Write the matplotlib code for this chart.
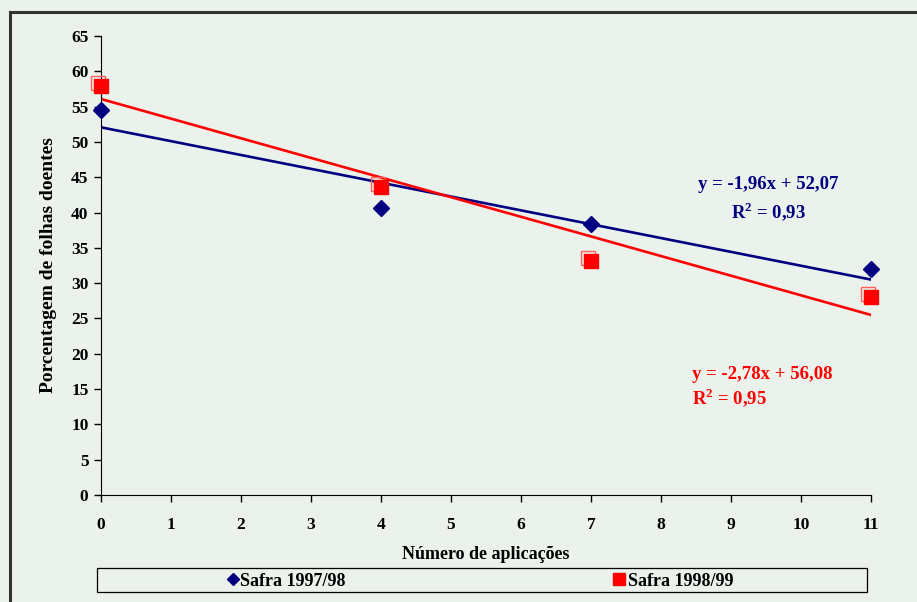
import matplotlib.pyplot as plt
import matplotlib.transforms as mtransforms
from matplotlib.patches import Rectangle
from matplotlib.lines import Line2D
import numpy as np

# dados
aplicacoes = [0, 4, 7, 11]
safra_9798 = [54.5, 40.6, 38.4, 32.0]
safra_9899 = [57.9, 43.6, 33.1, 28.0]
# coeficientes das linhas de tendencia (a, b) em y = a*x + b
coef_9798 = [-1.96, 52.07]
coef_9899 = [-2.78, 56.08]
r2_9798 = 0.93
r2_9899 = 0.95
xticks = list(range(0, 12))
yticks = list(range(0, 70, 5))

azul = '#000080'
vermelho = '#FF0000'
fundo = '#EBF1EB'


def virgula(v):
    return ('%.2f' % v).replace('.', ',')


plt.rcParams['font.family'] = ['Liberation Serif', 'DejaVu Serif']
plt.rcParams['font.weight'] = 'bold'
plt.rcParams['mathtext.fontset'] = 'custom'
plt.rcParams['mathtext.rm'] = 'Liberation Serif:bold'
plt.rcParams['mathtext.bf'] = 'Liberation Serif:bold'

fig = plt.figure(figsize=(9.17, 6.02), dpi=100, facecolor=fundo)
ax = fig.add_axes([0.1101, 0.1777, 0.8397, 0.7625])
ax.set_facecolor(fundo)

# linhas de tendencia
xl = np.array([aplicacoes[0], aplicacoes[-1]])
ax.plot(xl, coef_9798[0] * xl + coef_9798[1], color=azul, lw=1.9, zorder=2)
ax.plot(xl, coef_9899[0] * xl + coef_9899[1], color=vermelho, lw=1.9, zorder=2)

# pontos
ax.plot(aplicacoes, safra_9798, 'D', color=azul, ms=8, clip_on=False, zorder=4)
sombra = mtransforms.offset_copy(ax.transData, fig=fig, x=-3, y=3, units='dots')
ax.plot(aplicacoes, safra_9899, 's', mfc='none', mec='#FF6060', mew=1.0, ms=10,
        transform=sombra, clip_on=False, zorder=3)
ax.plot(aplicacoes, safra_9899, 's', color=vermelho, ms=10, clip_on=False, zorder=4)

ax.set_xlim(0, 11)
ax.set_ylim(0, 65)
ax.set_xticks(xticks)
ax.set_yticks(yticks)
ax.spines['top'].set_visible(False)
ax.spines['right'].set_visible(False)
ax.tick_params(axis='both', direction='out', length=5, width=1, labelsize=12.5)
ax.tick_params(axis='x', pad=11)
ax.tick_params(axis='y', pad=4)
for lab in ax.get_xticklabels() + ax.get_yticklabels():
    lab.set_fontweight('bold')

ax.set_xlabel('Número de aplicações', fontsize=13, fontweight='bold', labelpad=9)
ax.set_ylabel('Porcentagem de folhas doentes', fontsize=14, fontweight='bold', labelpad=10)

# equacoes
ax.text(9.53, 44.0, 'y = %sx + %s' % (virgula(coef_9798[0]), virgula(coef_9798[1])),
        color=azul, fontsize=13.5, fontweight='bold', ha='center', va='center')
ax.text(9.53, 40.0, 'R$^2$ = %s' % virgula(r2_9798), color=azul,
        fontsize=13.5, fontweight='bold', ha='center', va='center')
ax.text(8.45, 17.0, 'y = %sx + %s' % (virgula(coef_9899[0]), virgula(coef_9899[1])),
        color=vermelho, fontsize=13.5, fontweight='bold', ha='left', va='center')
ax.text(8.45, 13.7, 'R$^2$ = %s' % virgula(r2_9899), color=vermelho,
        fontsize=13.5, fontweight='bold', ha='left', va='center')

# legenda
W, H = 917.0, 602.0
fig.patches.append(Rectangle((97 / W, 1 - 592 / H), 770 / W, 24 / H, transform=fig.transFigure,
                             fill=False, edgecolor='black', lw=0.9))
fig.lines.append(Line2D([233 / W], [1 - 579 / H], marker='D', color=azul, ms=6,
                        transform=fig.transFigure))
fig.text(240 / W, 1 - 582 / H, 'Safra 1997/98', fontsize=13, fontweight='bold', va='center')
fig.lines.append(Line2D([619 / W], [1 - 579 / H], marker='s', color=vermelho, ms=8,
                        transform=fig.transFigure))
fig.text(628 / W, 1 - 582 / H, 'Safra 1998/99', fontsize=13, fontweight='bold', va='center')

# moldura
fig.patches.append(Rectangle((10 / W, -0.05), 1.1, 1 - 12 / H + 0.05, transform=fig.transFigure,
                             fill=False, edgecolor='#333333', lw=2.2, clip_on=False))

fig.savefig('out.png', dpi=100, facecolor=fundo)
